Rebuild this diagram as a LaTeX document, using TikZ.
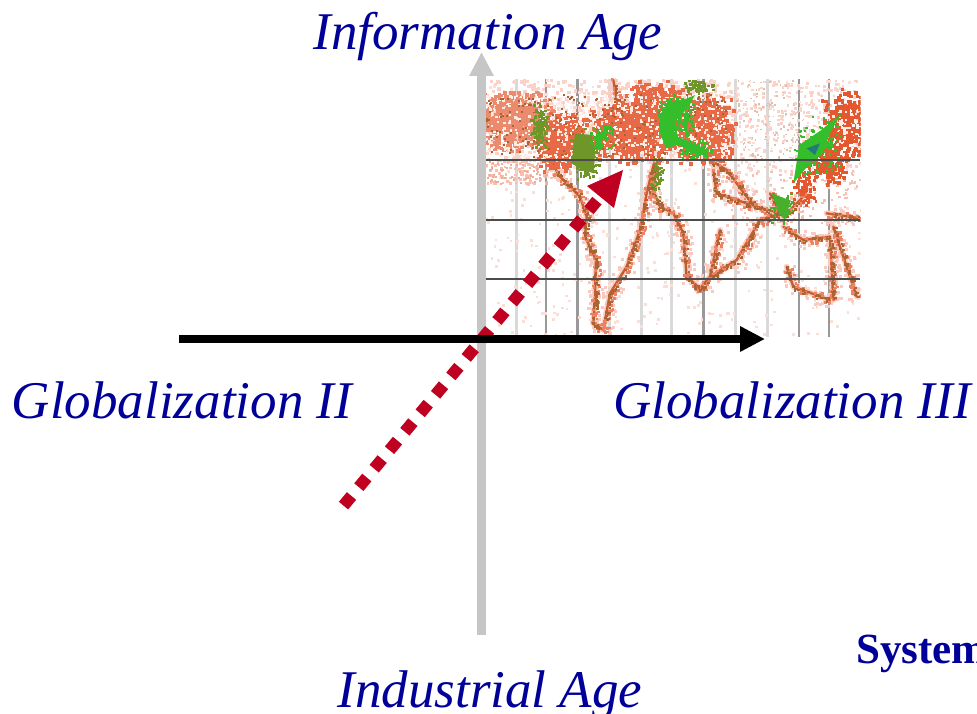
\documentclass[tikz,border=0pt]{standalone}
\usepackage{fontspec}
\setmainfont{Liberation Serif}
\usetikzlibrary{arrows.meta}
\definecolor{navytext}{RGB}{0,0,153}
\definecolor{dotred}{RGB}{192,0,32}
\definecolor{axisgrey}{RGB}{198,198,198}
\definecolor{mapred}{RGB}{228,88,48}
\definecolor{mappink}{RGB}{248,190,176}
\definecolor{mapgreen}{RGB}{52,190,44}
\definecolor{mapolive}{RGB}{110,150,40}
\definecolor{mapbrown}{RGB}{170,100,50}
\definecolor{mapwhite}{RGB}{255,236,228}
\tikzset{
  bigitalic/.style={font=\fontsize{53}{60}\selectfont\itshape,text=navytext,inner sep=0pt,anchor=base},
  gridh/.style={draw=black!70,line width=1.8pt},
  gridv/.style={draw=black!40,line width=2.4pt},
  gridf/.style={draw=black!15,line width=3pt},
}
% uniform scatter: x0 y0 x1 y1 count colour size
\newcommand\speck[7]{%
  \foreach \i in {1,...,#5}{%
    \pgfmathsetmacro\spx{#1+rnd*(#3-#1)}%
    \pgfmathsetmacro\spy{#2+rnd*(#4-#2)}%
    \fill[#6] (\spx,\spy) rectangle ++(#7,#7);%
  }%
}
% soft blob: cx cy rx ry count colour size
\newcommand\blob[7]{%
  \foreach \i in {1,...,#5}{%
    \pgfmathsetmacro\spx{#1+#3*(rnd+rnd-1)}%
    \pgfmathsetmacro\spy{#2+#4*(rnd+rnd-1)}%
    \fill[#6] (\spx,\spy) rectangle ++(#7,#7);%
  }%
}
% scatter along the segments in \routes: spread, step, colour, size
\newcommand\seglist[4]{%
  \foreach \sa/\sb/\sc/\sd in \routes{%
    \pgfmathtruncatemacro\snn{veclen(\sc-\sa,\sd-\sb)/#2+1}%
    \foreach \i in {1,...,\snn}{%
      \pgfmathsetmacro\st{rnd}%
      \pgfmathsetmacro\spx{\sa+\st*(\sc-\sa)+#1*(rnd-.5)}%
      \pgfmathsetmacro\spy{\sb+\st*(\sd-\sb)+#1*(rnd-.5)}%
      \fill[#3] (\spx,\spy) rectangle ++(#4,#4);%
    }%
  }%
}
\def\routes{180/100/215/180,215/180/235/260,235/260/270/320,270/320/330/380,330/380/350/440,350/440/345/500,345/500/378/570,378/570/375/680,375/680/370/760,370/760/400/780,400/780/420/670,420/670/470/590,470/590/510/480,510/480/530/370,530/370/552/280,555/280/545/350,545/350/570/410,570/410/610/430,610/430/640/490,640/490/650/620,650/620/690/655,690/655/720/620,720/620/750/480,720/620/800/570,800/570/870/450,870/450/930/430,720/270/770/300,770/300/830/380,830/380/860/410,860/410/930/430,730/300/740/370,740/370/860/410,1000/380/940/440,940/440/900/370,940/470/1000/510,1000/510/1080/500,1080/500/1090/690,950/590/970/650,970/650/1080/690,1090/470/1160/680,1070/430/1170/445,430/30/440/90}
\begin{document}
\begin{tikzpicture}[x=1pt,y=-1pt]
\useasboundingbox (0,0) rectangle (977,714);
\clip (0,0) rectangle (977,714);
\pgfmathsetseed{4242}
\begin{scope}[shift={(470,70)},x=0.3333pt,y=-0.3333pt]
  \clip (45,27) rectangle (1172,800);
  % grid verticals
  \foreach \vx in {140,420,515,605,797,893}{\draw[gridf] (\vx,27) -- (\vx,800);}
  \foreach \vx in {228,322,700,987,1077}{\draw[gridv] (\vx,27) -- (\vx,800);}
  % sparse pink background
  \speck{45}{27}{1170}{800}{520}{mappink!50}{8}
  \speck{45}{27}{800}{270}{750}{mappink!70}{10}
  \speck{800}{27}{1170}{300}{320}{mappink!70}{8}
  \speck{45}{270}{300}{340}{110}{mappink}{8}
  \speck{45}{270}{300}{340}{70}{mapred!50}{6}
  \speck{780}{30}{1000}{270}{130}{mapbrown!40}{5}
  \speck{780}{300}{1170}{460}{130}{mappink}{7}
  % routes
  \foreach \sa/\sb/\sc/\sd in \routes{
    \draw[mappink!70,line width=6pt,line cap=round] (\sa,\sb) -- (\sc,\sd);
  }
  \seglist{46}{4}{mappink!80}{9}
  \foreach \sa/\sb/\sc/\sd in \routes{
    \draw[mapred!55!mapbrown,line width=2.4pt,line cap=round] (\sa,\sb) -- (\sc,\sd);
  }
  \seglist{24}{5}{mapred!75}{8}
  \seglist{14}{6}{mapbrown}{7}
  % dense red: broad soft base, then the core
  \blob{125}{150}{130}{95}{650}{mapred!70}{11}
  \blob{270}{210}{85}{100}{380}{mapred!90}{11}
  \blob{480}{185}{135}{100}{800}{mapred!90}{11}
  \blob{560}{110}{110}{85}{400}{mapred!90}{11}
  \blob{700}{175}{95}{110}{520}{mapred!90}{11}
  \blob{1130}{170}{80}{120}{420}{mapred}{10}
  \blob{1060}{280}{70}{65}{180}{mapred}{10}
  \blob{1000}{350}{40}{65}{90}{mapred}{8}
  % pale and dark flecks on the red
  \speck{45}{70}{770}{260}{560}{mapwhite}{7}
  \speck{45}{70}{770}{260}{240}{mapbrown}{6}
  \blob{1130}{170}{60}{90}{60}{mapwhite}{7}
  % green
  \blob{205}{170}{28}{85}{110}{mapolive}{8}
  \fill[mapolive] (315,190) -- (365,195) -- (375,240) -- (372,310) -- (335,300) -- (305,280) -- cycle;
  \blob{340}{250}{45}{80}{170}{mapolive}{8}
  \fill[mapgreen] (378,200) -- (420,165) -- (392,220) -- (372,240) -- cycle;
  \blob{395}{200}{40}{45}{60}{mapgreen}{7}
  \fill[mapgreen] (570,135) -- (595,95) -- (640,90) -- (675,75) -- (655,112) -- (620,150) -- (612,195) -- (660,215) -- (712,240) -- (716,262) -- (660,242) -- (625,225) -- (588,235) -- (570,190) -- cycle;
  \blob{615}{140}{60}{70}{170}{mapgreen}{8}
  \blob{670}{235}{55}{32}{90}{mapgreen}{7}
  \blob{680}{45}{50}{22}{70}{mapolive}{8}
  \fill[mapgreen] (1115,130) -- (1082,185) -- (1058,250) -- (1010,292) -- (970,340) -- (988,225) -- (1050,183) -- cycle;
  \blob{1040}{230}{75}{95}{120}{mapgreen}{7}
  \fill[mapgreen!65!blue] (1010,235) -- (1050,220) -- (1035,255) -- cycle;
  \fill[mapgreen!85!mapbrown] (905,370) -- (962,392) -- (945,452) -- (925,420) -- cycle;
  \blob{935}{410}{40}{50}{50}{mapgreen!85!mapbrown}{7}
  \blob{560}{320}{22}{70}{50}{mapolive}{7}
  % horizontal grid
  \foreach \hy in {271,449,627}{\draw[gridh] (45,\hy) -- (1170,\hy);}
\end{scope}
% axes
\coordinate (vstart) at (481.5,635);
\coordinate (vend) at (481.5,52);
\coordinate (hstart) at (179,339);
\coordinate (hend) at (765,339);
\coordinate (dstart) at (343.5,505.6);
\coordinate (dend) at (600,197);
\coordinate (dtip) at (623,170);
\draw[axisgrey,line width=9pt,-{Triangle[length=24pt,width=23pt]}] (vstart) -- (vend);
\draw[dotred,line width=12pt,dash pattern=on 12.5pt off 11.5pt] (dstart) -- (dend);
\draw[black,line width=8pt,-{Triangle[length=25pt,width=24pt]}] (hstart) -- (hend);
\fill[dotred] (dtip) -- (587,186) -- (614,208) -- cycle;
% labels
\node[bigitalic] (info) at (488,50) {Information Age};
\node[bigitalic] (ind) at (490,707.5) {Industrial Age};
\node[bigitalic] (gii) at (182,418.5) {Globalization II};
\node[bigitalic] (giii) at (792,418.5) {Globalization III};
\node[font=\fontsize{43}{48}\selectfont\bfseries,text=navytext,inner sep=0pt,anchor=base west] (sys) at (856,663) {System};
\end{tikzpicture}
\end{document}
